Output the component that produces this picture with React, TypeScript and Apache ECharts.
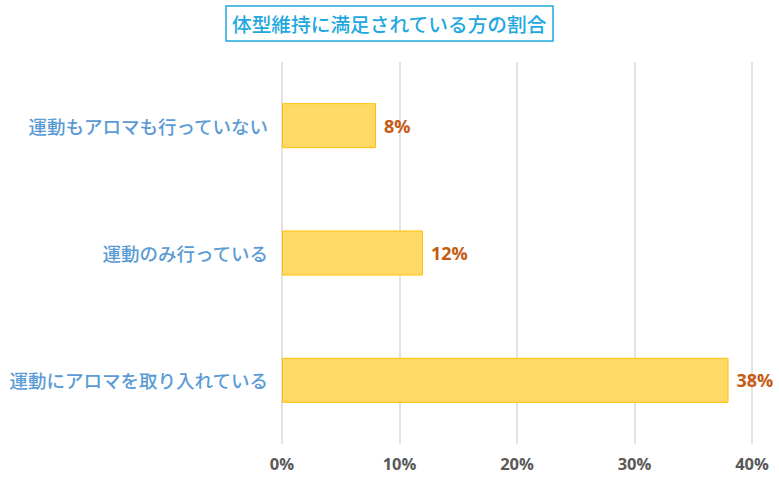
import React, { useEffect, useRef } from "react";
import * as echarts from "echarts";

const categories = ["運動もアロマも行っていない", "運動のみ行っている", "運動にアロマを取り入れている"];
const values = [8, 12, 38];
const axisTicks = [0, 10, 20, 30, 40];
const titleText = "体型維持に満足されている方の割合";

export default function App() {
  const ref = useRef<HTMLDivElement>(null);
  useEffect(() => {
    if (!ref.current) return;
    const chart = echarts.init(ref.current, null, { renderer: "svg" });
    chart.setOption({
      animation: false,
      backgroundColor: "#ffffff",
      title: {
        text: titleText,
        left: 226,
        top: 6,
        padding: [8, 6, 8, 6],
        borderColor: "#1fa8e0",
        borderWidth: 1.5,
        textStyle: {
          color: "#1fa8e0",
          fontSize: 19.7,
          fontWeight: 500,
          fontFamily: "Noto Sans CJK JP",
        },
      },
      grid: { left: 282, right: 27, top: 62, bottom: 40 },
      xAxis: {
        type: "value",
        min: axisTicks[0],
        max: axisTicks[axisTicks.length - 1],
        interval: 10,
        axisLine: { show: false },
        axisTick: { show: false },
        splitLine: { show: true, lineStyle: { color: "#d9d9d9", width: 1.5 } },
        axisLabel: {
          formatter: "{value}%",
          color: "#595959",
          fontSize: 16.5,
          fontWeight: "bold",
          fontFamily: "Open Sans",
          margin: 11,
        },
      },
      yAxis: {
        type: "category",
        data: categories,
        inverse: true,
        axisLine: { show: false },
        axisTick: { show: false },
        axisLabel: {
          color: "#5b9bd5",
          fontSize: 18.5,
          fontWeight: 500,
          fontFamily: "Noto Sans CJK JP",
          margin: 14,
        },
      },
      series: [
        {
          type: "bar",
          data: values,
          barWidth: 45,
          itemStyle: { color: "#ffd966", borderColor: "#ffc000", borderWidth: 1 },
          label: {
            show: true,
            position: "right",
            distance: 8,
            formatter: "{c}%",
            color: "#c55a11",
            fontSize: 18,
            fontWeight: "bold",
            fontFamily: "Open Sans",
          },
        },
      ],
    });
    return () => chart.dispose();
  }, []);
  return <div ref={ref} style={{ width: 779, height: 484, position: "absolute", left: 0, top: 0 }} />;
}
